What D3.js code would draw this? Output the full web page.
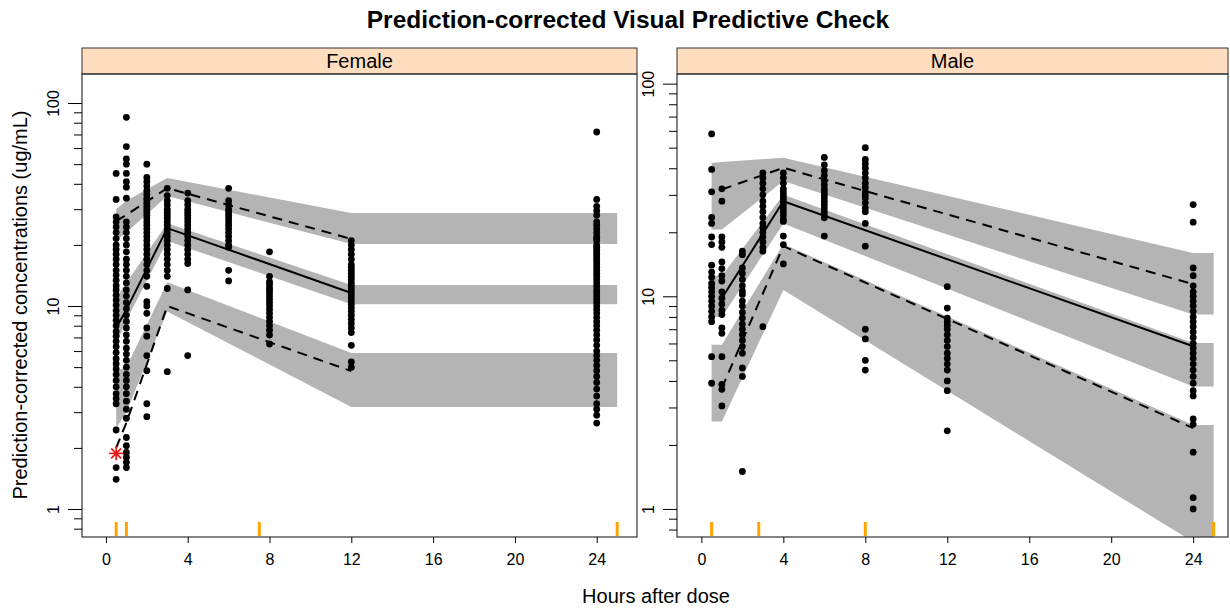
<!DOCTYPE html>
<html>
<head>
<meta charset="utf-8">
<title>Prediction-corrected Visual Predictive Check</title>
<script src="https://cdn.jsdelivr.net/npm/d3@7"></script>
<style>
  body { margin: 0; background: #fff; }
  svg { font-family: "Liberation Sans", Arial, Helvetica, sans-serif; }
</style>
</head>
<body>
<svg id="chart" width="1230" height="612"></svg>
<script>
// ---- data ----
var xTicks = [0, 4, 8, 12, 16, 20, 24];
var yMajor = [1, 10, 100];

// Female: observed (pred-corrected) concentrations per nominal time
var femaleTimes = [0.5, 1, 2, 3, 4, 6, 8, 12, 24];
var femaleConc = [
  [45, 33.5, 27.5, 26, 24.5, 23, 21.5, 20, 19, 18, 17, 16, 15, 14.2, 13.4, 12.6, 12, 11.3, 10.7, 10.1, 9.5, 9, 8.5, 8, 7.5, 7.1, 6.7, 6.3, 5.9, 5.5, 5.2, 4.9, 4.6, 4.3, 4.0, 3.7, 3.5, 3.3, 2.45, 1.6, 1.4],
  [85, 61, 53, 50, 45, 41, 38.5, 34, 26, 24.5, 23, 21.5, 20, 18.5, 17, 16, 15, 14, 13, 12, 11.2, 10.4, 9.7, 9, 8.4, 7.8, 7.2, 6.7, 6.2, 5.8, 5.4, 5, 4.6, 4.3, 4, 3.7, 3.4, 3.1, 2.8, 2.25, 2.05, 1.9, 1.8, 1.7, 1.6],
  [50, 43, 41, 39, 37, 35.5, 34, 33, 32, 31, 30, 29, 28, 27, 26, 25, 24, 23, 22, 21, 20, 19, 18, 17, 16, 15, 14, 12.5, 10.5, 10, 9.2, 7.8, 7.1, 5.7, 4.8, 3.3, 2.85],
  [38, 35, 33, 31.5, 30, 29, 28, 27, 26, 25, 24, 23, 22, 21, 20, 19, 18, 17, 16, 15, 14, 12.2, 4.75],
  [36, 33, 31.5, 30, 29, 28, 27, 26, 25, 24, 23, 22, 21, 20, 19, 18, 17, 16.2, 12, 5.7],
  [38, 33, 31.5, 30, 29, 28, 27, 26, 25, 24, 23, 22, 21, 20, 19.5, 15, 13.3],
  [18.5, 14, 13.2, 12.8, 12.3, 12, 11.6, 11.2, 10.8, 10.4, 10, 9.6, 9.2, 8.8, 8.4, 8, 7.6, 7.2, 6.5],
  [21, 20, 19, 18, 17, 16, 15.5, 15, 14.5, 14, 13.5, 13, 12.6, 12.2, 11.8, 11.4, 11, 10.6, 10.2, 9.8, 9.4, 9, 8.6, 8.2, 7.8, 7.4, 6.4, 5.3, 5.0],
  [72, 33.5, 31, 29.5, 28, 26, 25, 24, 23, 22, 21.5, 21, 20, 19.5, 19, 18.5, 18, 17.5, 17, 16.5, 16, 15.5, 15, 14.5, 14, 13.5, 13, 12.5, 12, 11.6, 11.2, 10.8, 10.4, 10, 9.6, 9.2, 8.8, 8.4, 8, 7.6, 7.2, 6.8, 6.4, 6, 5.7, 5.4, 5.1, 4.8, 4.5, 4.2, 3.9, 3.6, 3.3, 3.1, 2.9, 2.65]
];
// simulated prediction intervals (grey bands)
var femaleBandT = [0.5, 1, 3, 12, 25];
var femaleP95lo = [21, 23, 34.8, 20.2, 20.2];
var femaleP95hi = [30, 33, 42.7, 28.7, 28.7];
var femaleP50lo = [6.5, 8.5, 20.9, 10.2, 10.2];
var femaleP50hi = [11, 13, 25.6, 12.7, 12.7];
var femaleP05lo = [2.5, 3.0, 9.4, 3.18, 3.18];
var femaleP05hi = [4.8, 5.0, 13.1, 5.87, 5.87];
// observed percentiles
var femaleLineT = [0.5, 1, 3, 12];
var femaleObs95 = [26.2, 28.1, 38.1, 21.4];
var femaleObs50 = [7.8, 9.6, 24.2, 11.6];
var femaleObs05 = [2.0, 2.66, 10, 4.78];
var femaleBins = [0.5, 1, 7.5, 25];
var femaleFlag = [[0.5, 1.88]];

// Male
var maleTimes = [0.5, 1, 2, 3, 4, 6, 8, 12, 24];
var maleConc = [
  [58, 39.5, 31, 23.5, 22, 19, 17.5, 14, 13, 12.3, 11.5, 11, 10.5, 10, 9.5, 9, 8.5, 8, 7.6, 5.2, 3.9],
  [32, 28, 19, 18, 17, 14.5, 13.5, 12.5, 11.8, 10.5, 9.8, 9.2, 8.6, 8.2, 7.1, 6.7, 5.2, 3.85, 3.65, 3.05],
  [16.3, 15.7, 13.6, 12.8, 12, 11.2, 10.6, 10.2, 9.5, 9, 8.4, 7.9, 7.4, 7, 6.6, 6.2, 5.8, 5.4, 4.6, 4.2, 1.5],
  [38, 36, 34, 32, 30, 28, 26.5, 25, 23.5, 22, 21, 20, 19, 18, 17, 16.3, 7.2],
  [38, 36, 34, 32, 31, 30, 29, 28, 27, 26, 25, 24, 23, 22.5, 19.2, 17.5, 14.2],
  [45, 41.5, 39, 37, 35, 33.5, 32, 31, 30, 29, 28, 27, 26, 25, 24, 23.4, 19.2],
  [50, 44, 42, 40, 38, 36, 34, 32.5, 31, 30, 29, 27.5, 26, 25, 22, 17.2, 7.0, 6.3, 5.0, 4.5],
  [11.1, 8.8, 7.9, 7.6, 7.3, 7.0, 6.6, 6.2, 5.8, 5.4, 5.1, 4.8, 4.5, 4.0, 3.6, 2.33],
  [27, 22.3, 13.6, 12.5, 11.2, 10.5, 10, 9.5, 9, 8.5, 8, 7.6, 7.2, 6.8, 6.4, 6, 5.7, 5.4, 5.1, 4.8, 4.5, 4.2, 3.9, 3.6, 3.4, 2.65, 2.5, 1.85, 1.13, 1.0]
];
var maleBandT = [0.5, 1, 4, 24, 25];
var maleP95lo = [20.6, 20.6, 34.8, 8.2, 8.2];
var maleP95hi = [42.4, 42.8, 44.8, 16.0, 16.0];
var maleP50lo = [8.0, 8.0, 22, 3.77, 3.77];
var maleP50hi = [12.5, 12.5, 30, 6.03, 6.03];
var maleP05lo = [2.58, 2.58, 10.7, 0.7, 0.7];
var maleP05hi = [5.92, 5.92, 17.6, 2.48, 2.48];
var maleLineT = [1, 4, 24];
var maleObs95 = [31.8, 40.2, 11.4];
var maleObs50 = [9.8, 28.0, 5.82];
var maleObs05 = [3.7, 17.2, 2.4];
var maleBins = [0.5, 2.8, 8, 25];
var maleFlag = [];

// ---- layout ----
var plotTop = 74, plotBottom = 537, stripH = 26;
var panels = [
  { name: "Female", x0: 82, x1: 637, xdom: [-1.17, 25.97], ydom: [0.728, 139],
    times: femaleTimes, conc: femaleConc, bandT: femaleBandT,
    bands: [[femaleP95lo, femaleP95hi], [femaleP50lo, femaleP50hi], [femaleP05lo, femaleP05hi]],
    lineT: femaleLineT, lines: [[femaleObs95, true], [femaleObs50, false], [femaleObs05, true]],
    bins: femaleBins, flag: femaleFlag },
  { name: "Male", x0: 677, x1: 1228, xdom: [-1.19, 25.7], ydom: [0.738, 111],
    times: maleTimes, conc: maleConc, bandT: maleBandT,
    bands: [[maleP95lo, maleP95hi], [maleP50lo, maleP50hi], [maleP05lo, maleP05hi]],
    lineT: maleLineT, lines: [[maleObs95, true], [maleObs50, false], [maleObs05, true]],
    bins: maleBins, flag: maleFlag }
];

var svg = d3.select("#chart");

svg.append("text")
  .attr("x", 628).attr("y", 28)
  .attr("text-anchor", "middle")
  .style("font-size", "24.5px").style("font-weight", "bold")
  .text("Prediction-corrected Visual Predictive Check");

svg.append("text")
  .attr("transform", "translate(27,305) rotate(-90)")
  .attr("text-anchor", "middle")
  .style("font-size", "20px")
  .text("Prediction-corrected concentrations (ug/mL)");

svg.append("text")
  .attr("x", 656).attr("y", 603)
  .attr("text-anchor", "middle")
  .style("font-size", "20px")
  .text("Hours after dose");

panels.forEach(function(p, i) {
  var x = d3.scaleLinear().domain(p.xdom).range([p.x0, p.x1]);
  var y = d3.scaleLog().domain(p.ydom).range([plotBottom, plotTop]);
  var g = svg.append("g");

  var clipId = "clip" + i;
  svg.append("clipPath").attr("id", clipId)
    .append("rect").attr("x", p.x0).attr("y", plotTop)
    .attr("width", p.x1 - p.x0).attr("height", plotBottom - plotTop);

  var plot = g.append("g").attr("clip-path", "url(#" + clipId + ")");

  // grey prediction bands
  var area = d3.area()
    .x(function(d) { return x(d.t); })
    .y0(function(d) { return y(d.lo); })
    .y1(function(d) { return y(d.hi); });
  p.bands.forEach(function(b) {
    var rows = p.bandT.map(function(t, k) { return { t: t, lo: b[0][k], hi: b[1][k] }; });
    plot.append("path").attr("d", area(rows)).attr("fill", "#b4b4b4");
  });

  // observed points
  var pts = [];
  p.times.forEach(function(t, k) {
    p.conc[k].forEach(function(c) { pts.push({ t: t, c: c }); });
  });
  plot.selectAll("circle.obs").data(pts).enter().append("circle")
    .attr("class", "obs")
    .attr("cx", function(d) { return x(d.t); })
    .attr("cy", function(d) { return y(d.c); })
    .attr("r", 3.4).attr("fill", "#000");

  // observed percentile lines
  var line = d3.line()
    .x(function(d) { return x(d.t); })
    .y(function(d) { return y(d.v); });
  p.lines.forEach(function(l) {
    var rows = p.lineT.map(function(t, k) { return { t: t, v: l[0][k] }; });
    plot.append("path").attr("d", line(rows))
      .attr("fill", "none").attr("stroke", "#000").attr("stroke-width", 2)
      .attr("stroke-dasharray", l[1] ? "10,7" : null);
  });

  // flagged observation (red asterisk)
  p.flag.forEach(function(f) {
    var cx = x(f[0]), cy = y(f[1]), r = 7;
    var fg = plot.append("g").attr("stroke", "#ee1111").attr("stroke-width", 1.6);
    [0, 45, 90, 135].forEach(function(a) {
      var dx = r * Math.cos(a * Math.PI / 180), dy = r * Math.sin(a * Math.PI / 180);
      fg.append("line").attr("x1", cx - dx).attr("y1", cy - dy).attr("x2", cx + dx).attr("y2", cy + dy);
    });
  });

  // bin boundaries (orange rug)
  plot.selectAll("line.bin").data(p.bins).enter().append("line")
    .attr("class", "bin")
    .attr("x1", function(d) { return x(d); }).attr("x2", function(d) { return x(d); })
    .attr("y1", plotBottom - 15).attr("y2", plotBottom - 1)
    .attr("stroke", "#ffa500").attr("stroke-width", 3);

  // strip
  g.append("rect").attr("x", p.x0).attr("y", plotTop - stripH)
    .attr("width", p.x1 - p.x0).attr("height", stripH)
    .attr("fill", "#ffdec0").attr("stroke", "#333").attr("stroke-width", 1);
  g.append("text").attr("x", (p.x0 + p.x1) / 2).attr("y", plotTop - 6)
    .attr("text-anchor", "middle").style("font-size", "20px").text(p.name);

  // panel box
  g.append("rect").attr("x", p.x0).attr("y", plotTop)
    .attr("width", p.x1 - p.x0).attr("height", plotBottom - plotTop)
    .attr("fill", "none").attr("stroke", "#333").attr("stroke-width", 1.2);

  // x axis
  var xa = g.append("g").attr("transform", "translate(0," + plotBottom + ")")
    .call(d3.axisBottom(x).tickValues(xTicks).tickSize(6).tickPadding(11));
  xa.select(".domain").remove();
  xa.selectAll("text").style("font-size", "16px").style("font-family", "inherit");

  // y axis: minor ticks then major ticks with rotated labels
  var minor = [];
  [0.1, 1, 10].forEach(function(dec) {
    for (var m = 2; m <= 9; m++) {
      var v = m * dec;
      if (v > p.ydom[0] && v < p.ydom[1]) minor.push(v);
    }
  });
  var ym = g.append("g").attr("transform", "translate(" + p.x0 + ",0)")
    .call(d3.axisLeft(y).tickValues(minor).tickSize(8).tickFormat(""));
  ym.select(".domain").remove();
  var yM = g.append("g").attr("transform", "translate(" + p.x0 + ",0)")
    .call(d3.axisLeft(y).tickValues(yMajor).tickSize(14).tickFormat(d3.format("d")));
  yM.select(".domain").remove();
  yM.selectAll("text")
    .attr("x", null).attr("dy", null)
    .attr("transform", "translate(-23,0) rotate(-90)")
    .attr("text-anchor", "middle")
    .style("font-size", "16px").style("font-family", "inherit");
});
</script>
</body>
</html>
